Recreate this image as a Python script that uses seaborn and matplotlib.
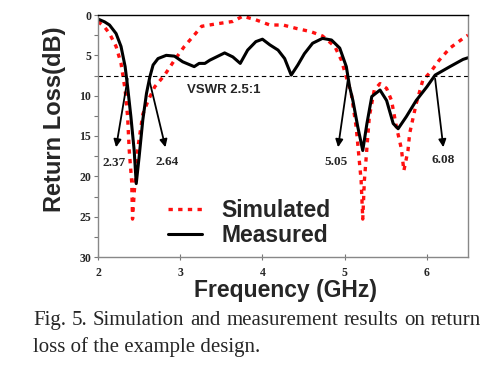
import matplotlib
matplotlib.use("Agg")
import matplotlib.pyplot as plt
import seaborn as sns
import pandas as pd

# ---- data ----
meas_freq = [2.0, 2.08, 2.14, 2.22, 2.28, 2.33, 2.36, 2.40, 2.44, 2.465, 2.50, 2.545,
             2.59, 2.63, 2.67, 2.73, 2.83, 2.93, 3.03, 3.17, 3.23, 3.30, 3.36, 3.44,
             3.54, 3.64, 3.73, 3.82, 3.92, 4.0, 4.09, 4.19, 4.27, 4.35, 4.43, 4.51,
             4.61, 4.73, 4.84, 4.94, 5.02, 5.06, 5.10, 5.16, 5.22, 5.27, 5.33, 5.43,
             5.51, 5.59, 5.65, 5.75, 5.87, 6.0, 6.10, 6.28, 6.44, 6.5]
meas_rl = [0.5, 0.85, 1.24, 2.3, 3.9, 6.4, 8.9, 12.6, 16.8, 20.9, 17.6, 13.0,
           9.7, 7.7, 6.2, 5.4, 5.0, 5.1, 5.8, 6.4, 6.0, 6.0, 5.6, 5.2,
           4.7, 5.2, 6.0, 4.35, 3.3, 3.0, 3.7, 4.35, 5.4, 7.45, 6.2, 4.8,
           3.5, 2.9, 3.1, 4.1, 6.4, 8.9, 10.6, 13.9, 16.8, 13.5, 10.1, 9.3,
           10.6, 13.45, 14.1, 12.6, 10.6, 8.9, 7.45, 6.4, 5.5, 5.3]

sim_freq = [2.0, 2.08, 2.14, 2.22, 2.28, 2.33, 2.36, 2.38, 2.41, 2.42, 2.44, 2.48,
            2.545, 2.61, 2.69, 2.81, 2.93, 3.05, 3.17, 3.26, 3.44, 3.64, 3.76, 3.92,
            4.09, 4.25, 4.41, 4.59, 4.73, 4.88, 4.96, 5.02, 5.08, 5.14, 5.20, 5.22,
            5.24, 5.30, 5.36, 5.43, 5.51, 5.57, 5.63, 5.69, 5.72, 5.77, 5.79, 5.87,
            5.95, 6.05, 6.15, 6.28, 6.44, 6.5]
sim_rl = [0.8, 1.5, 2.3, 3.9, 6.0, 9.3, 12.6, 16.8, 20.7, 25.3, 22.1, 16.8,
          12.3, 10.6, 8.9, 7.45, 5.6, 3.9, 2.5, 1.4, 1.1, 0.8, 0.15, 0.6,
          1.24, 1.24, 1.66, 2.07, 2.6, 3.9, 5.6, 7.7, 9.7, 13.9, 20.5, 25.3,
          20.5, 12.6, 9.3, 8.5, 9.1, 10.6, 13.9, 16.6, 19.3, 16.8, 14.7, 11.0,
          8.1, 7.0, 5.6, 4.1, 2.9, 2.5]

vswr_level = 7.5
x_ticks = [2, 3, 4, 5, 6]
y_ticks = [0, 5, 10, 15, 20, 25, 30]
mark_labels = ["2.37", "2.64", "5.05", "6.08"]
mark_start = [(2.36, 7.9), (2.62, 7.9), (5.04, 7.9), (6.10, 7.9)]
mark_tip = [(2.22, 16.4), (2.82, 16.4), (4.92, 16.4), (6.20, 16.4)]
mark_text = [(2.20, 18.3), (2.845, 18.2), (4.89, 18.2), (6.20, 18.0)]
caption_line1 = ["Fig.", "5.", "Simulation", "and", "measurement", "results", "on", "return"]
caption_line2 = "loss of the example design."

sns.set_style("white")
plt.rcParams['font.family'] = ['Liberation Sans', 'DejaVu Sans']

fig = plt.figure(figsize=(4.95, 3.73), dpi=100)
ax = fig.add_axes([98/495, 1-257/373, (468-98)/495, (257-15)/373])

sim_df = pd.DataFrame({"freq": sim_freq, "rl": sim_rl})
meas_df = pd.DataFrame({"freq": meas_freq, "rl": meas_rl})

sns.lineplot(data=sim_df, x="freq", y="rl", ax=ax, color="#ff1010", lw=2.4,
             label="Simulated", sort=False)
sns.lineplot(data=meas_df, x="freq", y="rl", ax=ax, color="black", lw=2.2,
             label="Measured", sort=False)
sim_line = ax.lines[0]
sim_line.set_linestyle((0, (1.3, 1.6)))
sim_line.set_dash_capstyle("butt")
ax.lines[1].set_solid_joinstyle("round")

ax.axhline(vswr_level, color="black", lw=0.8, ls=(0, (4, 3)))
ax.text(3.08, 9.3, "VSWR 2.5:1", fontsize=9.5, fontweight="bold", ha="left", va="center")

for lab, s, t, p in zip(mark_labels, mark_start, mark_tip, mark_text):
    ax.annotate("", xy=t, xytext=s,
                arrowprops=dict(arrowstyle="-|>,head_length=0.45,head_width=0.22",
                                color="black", lw=1.3, shrinkA=0, shrinkB=0))
    ax.text(p[0], p[1], lab, fontsize=9.5, fontweight="bold", ha="center", va="center",
            family="Liberation Serif")

ax.set_xlim(2, 6.5)
ax.set_ylim(30, 0)
ax.set_xticks(x_ticks)
ax.set_yticks(y_ticks)
ax.set_yticks([2.5, 7.5, 12.5, 17.5, 22.5, 27.5], minor=True)
ax.set_xticklabels([str(v) for v in x_ticks], family="Liberation Serif", fontweight="bold", fontsize=8.5)
ax.set_yticklabels([str(v) for v in y_ticks], family="Liberation Serif", fontweight="bold", fontsize=8.5)
ax.tick_params(axis="y", which="both", direction="out", length=3, width=0.8, color="#777777", pad=2, left=True)
ax.tick_params(axis="x", which="both", direction="inout", length=4, width=0.8, color="#777777", pad=5, bottom=True)
ax.set_xlabel("")
ax.set_ylabel("")
for side in ["left", "bottom", "right"]:
    ax.spines[side].set_color("#888888")
    ax.spines[side].set_linewidth(1.0)
ax.spines["top"].set_color("black")
ax.spines["top"].set_linewidth(1.0)

leg = ax.legend(loc="center left", bbox_to_anchor=(168/495, 1-223/373),
                bbox_transform=fig.transFigure, frameon=False,
                prop=dict(family="Liberation Sans", weight="bold", size=16.5),
                handlelength=1.5, handletextpad=0.85, borderpad=0, borderaxespad=0,
                labelspacing=0.08)

fig.text(55/495, 1-119/373, "Return Loss(dB)", rotation=90, fontsize=17, fontweight="bold",
         ha="center", va="center")
fig.text(285/495, 1-290/373, "Frequency (GHz)", fontsize=16.5, fontweight="bold",
         ha="center", va="center")

# caption, first line justified
fig.canvas.draw()
renderer = fig.canvas.get_renderer()
words = []
for w in caption_line1:
    t = fig.text(0, 1-325/373, w, fontsize=15, family="Liberation Serif", ha="left", va="baseline")
    words.append(t)
widths = [t.get_window_extent(renderer).width for t in words]
left_px, right_px = 33, 481
gap = (right_px - left_px - sum(widths)) / (len(words) - 1)
xpos = left_px
for t, wdt in zip(words, widths):
    t.set_x(xpos/495)
    xpos += wdt + gap
fig.text(33/495, 1-352/373, caption_line2, fontsize=15, family="Liberation Serif",
         ha="left", va="baseline")

fig.savefig("out.png", dpi=100)
